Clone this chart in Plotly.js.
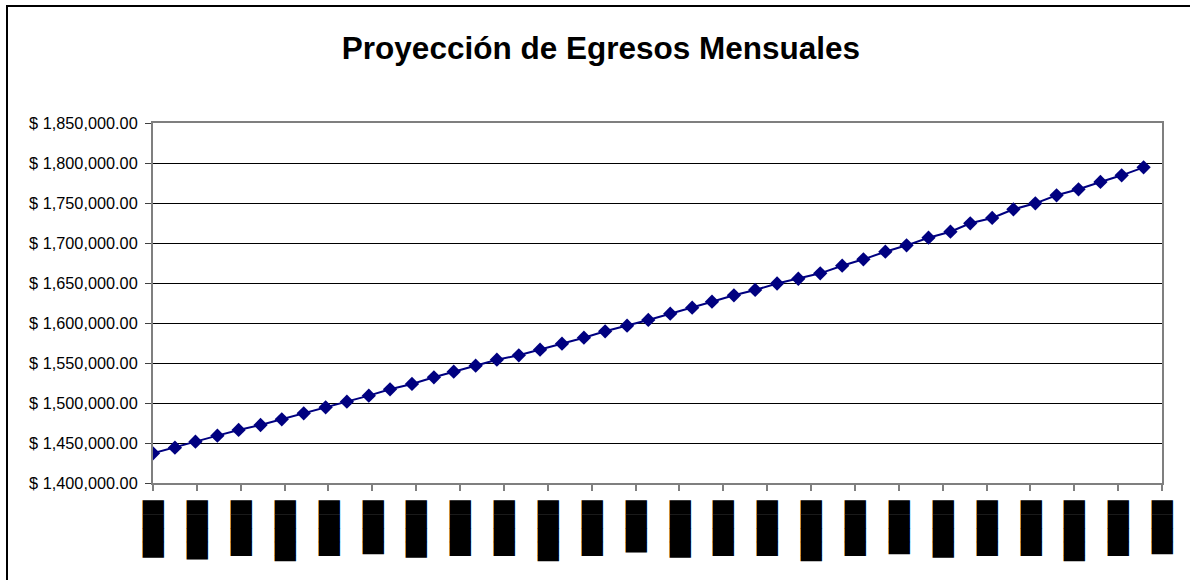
<!DOCTYPE html>
<html>
<head>
<meta charset="utf-8">
<script src="https://cdn.plot.ly/plotly-3.0.1.min.js"></script>
<style>
    body { margin: 0; background: #fff; overflow: hidden; }
    #chart { width: 1190px; height: 580px; }
    #frame { position: absolute; left: 6px; top: 5px; width: 1200px; height: 600px; border: 2px solid #000; pointer-events: none; }
</style>
</head>
<body>
<div id="chart"></div>
<div id="frame"></div>
<script>
// monthly projection (47 months)
const months = [
    '2008-01-01', '2008-02-01', '2008-03-01', '2008-04-01', '2008-05-01', '2008-06-01',
    '2008-07-01', '2008-08-01', '2008-09-01', '2008-10-01', '2008-11-01', '2008-12-01',
    '2009-01-01', '2009-02-01', '2009-03-01', '2009-04-01', '2009-05-01', '2009-06-01',
    '2009-07-01', '2009-08-01', '2009-09-01', '2009-10-01', '2009-11-01', '2009-12-01',
    '2010-01-01', '2010-02-01', '2010-03-01', '2010-04-01', '2010-05-01', '2010-06-01',
    '2010-07-01', '2010-08-01', '2010-09-01', '2010-10-01', '2010-11-01', '2010-12-01',
    '2011-01-01', '2011-02-01', '2011-03-01', '2011-04-01', '2011-05-01', '2011-06-01',
    '2011-07-01', '2011-08-01', '2011-09-01', '2011-10-01', '2011-11-01'
];
const egresos = [
    1437100, 1444200, 1451700, 1459200, 1466300, 1472500, 1479600, 1487100, 1494600, 1501700,
    1509200, 1517100, 1523800, 1532100, 1539100, 1546600, 1554100, 1559600, 1566600, 1574100,
    1581600, 1589600, 1596600, 1603800, 1611600, 1619100, 1626600, 1634600, 1641300, 1649400,
    1655300, 1662100, 1671600, 1679600, 1689100, 1697100, 1706600, 1714100, 1724600, 1731300,
    1742100, 1749600, 1759600, 1767100, 1776300, 1784600, 1794600
];
// x labels are blacked out in the original
const labelBlocks = [
    '████▏', '████▎', '████', '████▍', '████', '███▉', '████▏', '████', '████', '████▍', '████', '███▊',
    '████▏', '████', '████', '████▍', '████', '███▉', '████▏', '████', '████', '████▍', '████', '███▉'
];

const DAY = 86400000;
const start = new Date(months[0]).getTime();
const tickVals = labelBlocks.map((_, i) => new Date(start + i * 62 * DAY).toISOString().slice(0, 10));
const rangeEnd = new Date(start + 1426 * DAY).toISOString().slice(0, 10);

const trace = {
    x: months,
    y: egresos,
    type: 'scatter',
    mode: 'lines+markers',
    line: { color: '#000080', width: 2 },
    marker: { symbol: 'diamond', size: 11, color: '#000080' },
    hoverinfo: 'x+y'
};

const layout = {
    width: 1190,
    height: 580,
    paper_bgcolor: '#fff',
    plot_bgcolor: '#fff',
    font: { family: 'Liberation Sans, Arial, sans-serif', color: '#000' },
    title: {
        text: '<b>Proyección de Egresos Mensuales</b>',
        font: { size: 31.5, color: '#000' },
        x: 0.505, xanchor: 'center',
        y: 0.918, yanchor: 'middle'
    },
    margin: { l: 153, r: 28, t: 123, b: 97 },
    showlegend: false,
    xaxis: {
        type: 'date',
        range: [months[0], rangeEnd],
        tickmode: 'array',
        tickvals: tickVals,
        ticktext: labelBlocks,
        tickangle: 90,
        tickfont: { family: 'DejaVu Sans', size: 18, color: '#000' },
        ticklabelstandoff: 6,
        ticks: 'outside', ticklen: 6, tickwidth: 2, tickcolor: '#7f7f7f',
        showgrid: false, zeroline: false,
        showline: true, linecolor: '#7f7f7f', linewidth: 2, mirror: true
    },
    yaxis: {
        range: [1400000, 1850000],
        dtick: 50000,
        tickprefix: '$ ',
        tickformat: ',.2f',
        tickfont: { size: 16.3, color: '#000' },
        ticklabelstandoff: 4,
        ticks: 'outside', ticklen: 6, tickwidth: 1, tickcolor: '#404040',
        showgrid: true, gridcolor: '#000', gridwidth: 1,
        zeroline: false,
        showline: true, linecolor: '#7f7f7f', linewidth: 2, mirror: true
    }
};

Plotly.newPlot('chart', [trace], layout, { displayModeBar: false, staticPlot: true });
</script>
</body>
</html>
